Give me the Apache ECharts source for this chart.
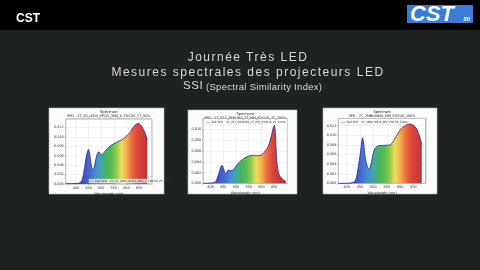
<!DOCTYPE html>
<html><head><meta charset="utf-8">
<script src="https://cdn.jsdelivr.net/npm/echarts@6/dist/echarts.min.js"></script>
<style>
html,body{margin:0;padding:0;background:#1e2221;}
#wrap{position:relative;width:480px;height:270px;}
#c{position:absolute;left:0;top:0;width:480px;height:270px;}
.tl{position:absolute;left:0;width:480px;color:#dadada;font-family:'Liberation Sans',Arial,sans-serif;white-space:nowrap;line-height:1;pointer-events:none;}
</style>
</head><body><div id="wrap"><div id="c"></div>
<div class="tl" id="t1" style="top:51px;left:248px;width:auto;transform:translateX(-50%);font-size:12px;letter-spacing:1.5px;"></div>
<div class="tl" id="t2" style="top:65.5px;left:248px;width:auto;transform:translateX(-50%);font-size:12px;letter-spacing:1.5px;"></div>
<div class="tl" id="t3" style="top:80px;left:183px;width:auto;font-size:11.5px;letter-spacing:0.6px;"></div>
<div class="tl" id="t4" style="top:81.5px;left:206px;width:auto;font-size:9.5px;letter-spacing:0.3px;"></div>
</div>
<script>
// ---- text ----
const titleLine1 = 'Journée Très LED';
const titleLine2 = 'Mesures spectrales des projecteurs LED';
const titleLine3 = 'SSI';
const titleNote = '(Spectral Similarity Index)';
const panelTitles = ['Spectrum', 'Spectrum', 'Spectrum'];
const panelSubtitles = [
  'SPD - 2T_X3_LEDX_EPO3_3MA_V_FOCUS_2T_50%',
  'SPD - 2T_X11_PANOBA_2T_MM_FOCUS_2T_100%',
  'SPD - 2T_2MNLINKIA_MM_FOCUS_100%'
];
const legendLabels = [
  'Test SPD - 2T_X3_LEDX_EPO3_3MA_V_FOCUS_2T_50%',
  'Test SPD - 2T_X11_PANOBA_2T_MM_FOCUS_2T_100%',
  'Test SPD - 2T_2MNLINKIA_MM_FOCUS_100%'
];
const xAxisName = 'Wavelength (nm)';
const yAxisName = 'Spectral Power (W/nm)';
const xTickLabels = [400, 450, 500, 550, 600, 650];

// ---- data: wavelength (nm) / spectral power (W/nm) ----
const wl1 = [360,380,400,410,420,425,430,435,440,445,449,453,457,461,466,470,475,480,486,491,496,501,510,520,530,541,555,570,580,595,607,617,626,636,646,653,659,665,672,678,683];
const spd1 = [0.00004,0.00006,0.0001,0.00016,0.0004,0.001,0.0022,0.0038,0.0056,0.0068,0.00734,0.0068,0.0052,0.0038,0.003,0.0032,0.0042,0.0056,0.0066,0.00686,0.0064,0.00614,0.0066,0.0072,0.0078,0.00826,0.0087,0.0091,0.00932,0.0099,0.01054,0.0112,0.01194,0.0126,0.01286,0.0127,0.01236,0.0118,0.0111,0.0102,0.00932];

const wl2 = [372,400,415,421,428,435,440,445,450,455,458,463,469,475,482,490,500,508,520,530,540,553,566,580,590,599,606,612,620,625,631,637,642,647,651,654,657,660,665,670,677,683,690,696];
const spd2 = [0.00004,0.00008,0.0002,0.0004,0.0012,0.0022,0.003,0.00338,0.0029,0.0021,0.00184,0.0021,0.00246,0.0024,0.0024,0.0026,0.0032,0.00368,0.0042,0.0046,0.0049,0.0051,0.0052,0.00516,0.00516,0.00524,0.0055,0.0058,0.0063,0.00674,0.0074,0.0084,0.0094,0.0104,0.01074,0.0096,0.0068,0.0042,0.0024,0.00154,0.0011,0.0008,0.00056,0.0004];

const wl3 = [370,400,420,431,438,444,450,455,459,463,467,472,478,484,490,496,501,506,512,519,530,545,562,572,581,590,600,610,619,628,637,646,656,663,669,675,681];
const spd3 = [0.00004,0.00006,0.00016,0.0005,0.0016,0.0036,0.0058,0.008,0.00952,0.0086,0.0064,0.0046,0.0034,0.00298,0.0038,0.0054,0.0066,0.0073,0.00764,0.00784,0.0079,0.00794,0.008,0.0086,0.00938,0.0102,0.01112,0.0117,0.012,0.01226,0.01236,0.0122,0.0118,0.0112,0.0104,0.0094,0.00812];

// spectrum colours from 340 nm to 720 nm, every 20 nm
const spectrumColors = ['#40268c','#422a96','#4330a2','#4236ae','#3c40bc','#3a52c6','#3a6ccf','#3a8ad2','#35a3a0','#40b055','#4fb84c','#8cc843','#e8dc52','#f3ad45','#ea6835','#dc4032','#cf3330','#bd2a2b','#a82326','#982024'];

const panels = [
  {rect:[49,108,115,86], grid:{left:65.7, top:119, width:86.2, height:65}, xMin:359, xMax:701, yMax:0.0138, wl:wl1, spd:spd1, legendPos:'br'},
  {rect:[188,110,109,84], grid:{left:203.2, top:118.5, width:84.2, height:65}, xMin:371, xMax:702, yMax:0.012, wl:wl2, spd:spd2, legendPos:'tl'},
  {rect:[323,108,114,86], grid:{left:338.4, top:118.5, width:87.4, height:65}, xMin:369, xMax:696, yMax:0.0135, wl:wl3, spd:spd3, legendPos:'tl'}
];

document.getElementById('t1').textContent = titleLine1;
document.getElementById('t2').textContent = titleLine2;
document.getElementById('t3').textContent = titleLine3;
document.getElementById('t4').textContent = titleNote;

const FF = 'DejaVu Sans';
const grids = [], xAxes = [], yAxes = [], series = [], visualMaps = [], graphics = [];

// slide background pieces
graphics.push({type:'rect', shape:{x:0,y:0,width:480,height:30}, style:{fill:'#000'}, z:0});
graphics.push({type:'text', style:{text:'CST', x:16, y:19, fill:'#fff', fontSize:12, fontWeight:'bold', fontFamily:'Liberation Sans', verticalAlign:'middle'}});
graphics.push({type:'rect', shape:{x:407,y:5,width:66,height:18}, style:{fill:'#3c7bd6'}});
graphics.push({type:'text', style:{text:'CST', x:410, y:14.5, fill:'#fff', fontSize:22, fontWeight:'bold', fontStyle:'italic', fontFamily:'Liberation Sans', verticalAlign:'middle'}});
graphics.push({type:'text', style:{text:'80', x:463.5, y:19, fill:'#fff', fontSize:6, fontWeight:'bold', fontStyle:'italic', fontFamily:'Liberation Sans', verticalAlign:'middle'}});

panels.forEach((p, i) => {
  const [rx, ry, rw, rh] = p.rect;
  const g = p.grid;
  graphics.push({type:'rect', shape:{x:rx,y:ry,width:rw,height:rh}, style:{fill:'#fbfbfb', stroke:'#bdbdbd', lineWidth:0.6}, z:-1});
  const cx = g.left + g.width / 2;
  graphics.push({type:'text', style:{text:panelTitles[i], x:cx, y:ry+4.5, fill:'#222', fontSize:3.6, fontFamily:FF, align:'center', verticalAlign:'middle'}});
  graphics.push({type:'text', style:{text:panelSubtitles[i], x:cx, y:ry+8.3, fill:'#222', fontSize:3.4, fontFamily:FF, align:'center', verticalAlign:'middle'}});
  // legend
  let lx, ly;
  if (p.legendPos === 'br') { lx = g.left + g.width - 62; ly = g.top + g.height - 3; }
  else { lx = g.left + 3; ly = g.top + 4; }
  graphics.push({type:'rect', shape:{x:lx-1, y:ly-2, width:61, height:4}, style:{fill:'rgba(255,255,255,0.75)', stroke:'#d0d0d0', lineWidth:0.3}, z:50});
  graphics.push({type:'line', shape:{x1:lx, y1:ly, x2:lx+4, y2:ly}, style:{stroke:'#5b8fd6', lineWidth:0.6}, z:51});
  graphics.push({type:'text', style:{text:legendLabels[i], x:lx+5, y:ly, fill:'#333', fontSize:2.8, fontFamily:FF, verticalAlign:'middle'}, z:51});

  grids.push({left:g.left, top:g.top, width:g.width, height:g.height, show:true, backgroundColor:'#fff', borderColor:'#555', borderWidth:0.6, containLabel:false});
  xAxes.push({type:'value', gridIndex:i, min:p.xMin, max:p.xMax, splitNumber:6,
    name:xAxisName, nameLocation:'middle', nameGap:8.5, nameTextStyle:{fontSize:3.4, color:'#222', fontFamily:FF},
    axisLine:{show:false}, axisTick:{show:true, length:1.2, lineStyle:{color:'#555', width:0.4}},
    axisLabel:{fontSize:3.4, color:'#333', margin:2.5, fontFamily:FF, showMinLabel:false, showMaxLabel:false,
      formatter: v => xTickLabels.includes(v) ? String(v) : ''},
    splitLine:{show:true, lineStyle:{color:'#e3e3e3', width:0.5}}});
  yAxes.push({type:'value', gridIndex:i, min:0, max:p.yMax, interval:0.002,
    name:yAxisName, nameLocation:'middle', nameGap:11, nameRotate:90, nameTextStyle:{fontSize:3.2, color:'#222', fontFamily:FF},
    axisLine:{show:false}, axisTick:{show:true, length:1.2, lineStyle:{color:'#555', width:0.4}},
    axisLabel:{fontSize:3.4, color:'#333', margin:2, fontFamily:FF, showMaxLabel:false, formatter: v => v.toFixed(3)},
    splitLine:{show:true, lineStyle:{color:'#e3e3e3', width:0.5}}});
  const data = p.wl.map((w, k) => [w, p.spd[k]]);
  series.push({type:'line', xAxisIndex:i, yAxisIndex:i, data, showSymbol:false, smooth:0.25, silent:true,
    lineStyle:{width:0, opacity:0}, areaStyle:{opacity:0.95}, z:2});
  series.push({type:'line', xAxisIndex:i, yAxisIndex:i, data, showSymbol:false, smooth:0.25, silent:true,
    lineStyle:{width:0.9, color:'#3a2f92'}, itemStyle:{color:'#3a2f92'}, z:3});
  visualMaps.push({type:'continuous', show:false, dimension:0, seriesIndex:2*i, min:340, max:720, inRange:{color:spectrumColors}});
});

const chart = echarts.init(document.getElementById('c'), null, {renderer:'canvas', width:480, height:270});
chart.setOption({
  backgroundColor:'#1e2221',
  animation:false,
  grid:grids, xAxis:xAxes, yAxis:yAxes, series, visualMap:visualMaps,
  graphic:{elements:graphics}
});
</script></body></html>
